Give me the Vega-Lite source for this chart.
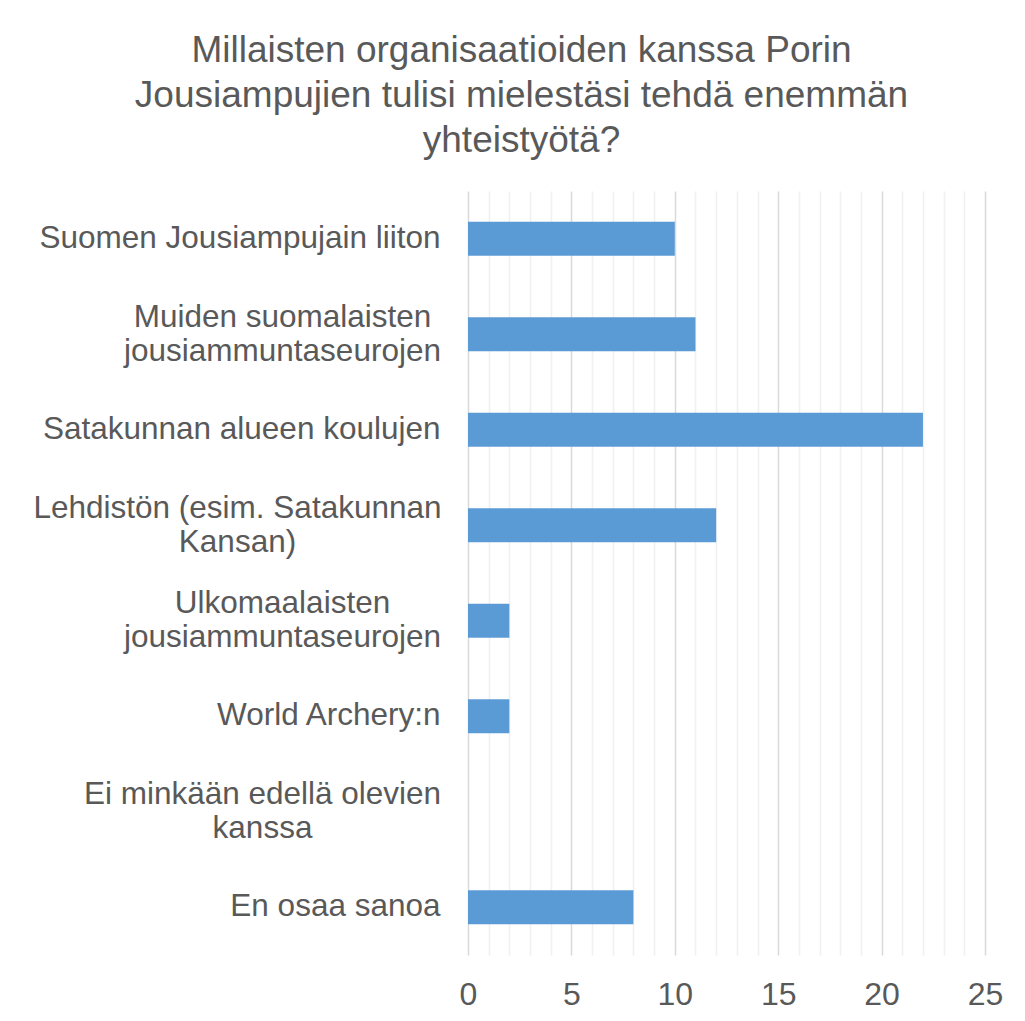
{
  "$schema": "https://vega.github.io/schema/vega-lite/v6.json",
  "width": 517,
  "height": 764,
  "autosize": {"type": "none"},
  "padding": {"left": 468, "top": 191, "right": 40, "bottom": 66},
  "background": "white",
  "title": {
    "text": ["Millaisten organisaatioiden kanssa Porin", "Jousiampujien tulisi mielestäsi tehdä enemmän", "yhteistyötä?"],
    "font": "Liberation Sans",
    "fontSize": 37,
    "fontWeight": "normal",
    "color": "#595959",
    "lineHeight": 45,
    "anchor": "middle",
    "frame": "group",
    "dx": -205,
    "offset": 31
  },
  "data": {
    "values": [
      {"org": "Suomen Jousiampujain liiton", "n": 10},
      {"org": "Muiden suomalaisten|jousiammuntaseurojen", "n": 11},
      {"org": "Satakunnan alueen koulujen", "n": 22},
      {"org": "Lehdistön (esim. Satakunnan|Kansan)", "n": 12},
      {"org": "Ulkomaalaisten|jousiammuntaseurojen", "n": 2},
      {"org": "World Archery:n", "n": 2},
      {"org": "Ei minkään edellä olevien|kanssa", "n": 0},
      {"org": "En osaa sanoa", "n": 8}
    ]
  },
  "encoding": {
    "y": {
      "field": "org",
      "type": "nominal",
      "sort": null,
      "scale": {"paddingInner": 0.644, "paddingOuter": 0.322},
      "axis": {
        "title": null,
        "domain": false,
        "ticks": false,
        "grid": false,
        "labelFont": "Liberation Sans",
        "labelFontSize": 31.5,
        "labelColor": "#595959",
        "labelLineHeight": 34,
        "labelLimit": 0,
        "labelExpr": "split(datum.label, '|')",
        "labelAlign": {"condition": {"test": "indexof(datum.value, '|') >= 0", "value": "center"}, "value": "right"},
        "labelOffset": {"condition": {"test": "indexof(datum.value, '|') >= 0", "value": -16.5}, "value": 0},
        "labelPadding": {
          "condition": [
            {"test": "datum.value === 'Lehdistön (esim. Satakunnan|Kansan)'", "value": 231},
            {"test": "datum.value === 'Ei minkään edellä olevien|kanssa'", "value": 206},
            {"test": "indexof(datum.value, '|') >= 0", "value": 186}
          ],
          "value": 28
        }
      }
    }
  },
  "layer": [
    {
      "mark": {"type": "bar", "opacity": 0},
      "encoding": {
        "x": {
          "field": "n",
          "type": "quantitative",
          "scale": {"domain": [0, 25], "nice": false},
          "axis": {
            "orient": "bottom",
            "title": null,
            "domain": false,
            "ticks": false,
            "labels": false,
            "grid": true,
            "gridColor": "#f0f0f0",
            "gridWidth": 1.5,
            "values": [1, 2, 3, 4, 6, 7, 8, 9, 11, 12, 13, 14, 16, 17, 18, 19, 21, 22, 23, 24],
            "zindex": 0
          }
        }
      }
    },
    {
      "mark": {"type": "bar", "color": "#5b9bd5"},
      "encoding": {
        "x": {
          "field": "n",
          "type": "quantitative",
          "scale": {"domain": [0, 25], "nice": false},
          "axis": {
            "orient": "bottom",
            "title": null,
            "domain": false,
            "ticks": false,
            "grid": true,
            "gridColor": "#d9d9d9",
            "gridWidth": 1.5,
            "values": [0, 5, 10, 15, 20, 25],
            "labelFlush": false,
            "labelPadding": 24,
            "labelFont": "Liberation Sans",
            "labelFontSize": 32,
            "labelColor": "#595959",
            "zindex": 0
          }
        }
      }
    }
  ],
  "resolve": {"axis": {"x": "independent"}},
  "config": {"view": {"stroke": null}}
}
